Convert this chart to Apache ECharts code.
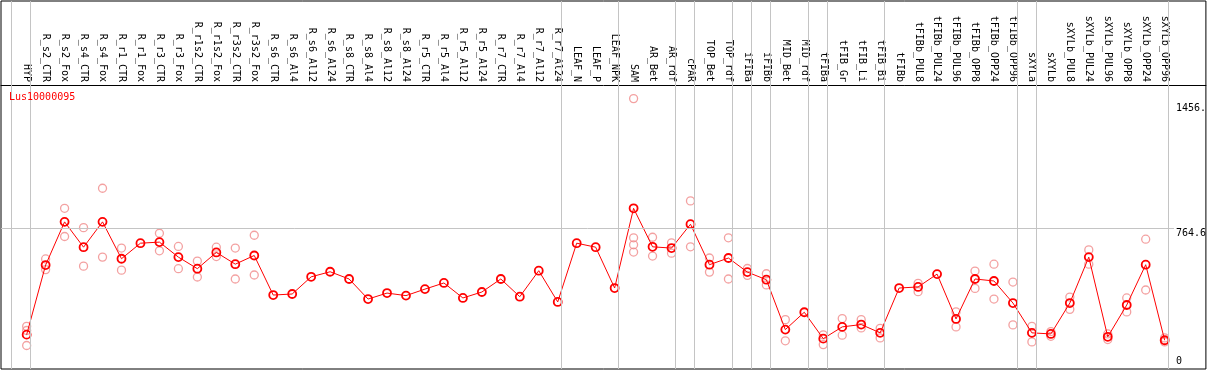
<!DOCTYPE html>
<html><head><meta charset="utf-8">
<script src="https://cdn.jsdelivr.net/npm/echarts@6/dist/echarts.min.js"></script>
<style>html,body{margin:0;padding:0;background:#fff}#c{width:1209px;height:370px}</style>
</head><body><div id="c"></div><script>
const geneName = 'Lus10000095';
const categories = ['HYP','R_s2_CTR','R_s2_Fox','R_s4_CTR','R_s4_Fox','R_r1_CTR','R_r1_Fox','R_r3_CTR','R_r3_Fox','R_r1s2_CTR','R_r1s2_Fox','R_r3s2_CTR','R_r3s2_Fox','R_s6_CTR','R_s6_Al4','R_s6_Al12','R_s6_Al24','R_s8_CTR','R_s8_Al4','R_s8_Al12','R_s8_Al24','R_r5_CTR','R_r5_Al4','R_r5_Al12','R_r5_Al24','R_r7_CTR','R_r7_Al4','R_r7_Al12','R_r7_Al24','LEAF_N','LEAF_P','LEAF_NPK','SAM','AR_Bet','AR_rdf','cPAR','TOP_Bet','TOP_rdf','iFIBa','iFIBb','MID_Bet','MID_rdf','tFIBa','tFIB_Gr','tFIB_Li','tFIB_Bi','tFIBb','tFIBb_PUL8','tFIBb_PUL24','tFIBb_PUL96','tFIBb_OPP8','tFIBb_OPP24','tFIBb_OPP96','sXYLa','sXYLb','sXYLb_PUL8','sXYLb_PUL24','sXYLb_PUL96','sXYLb_OPP8','sXYLb_OPP24','sXYLb_OPP96'];
const meanValues = [176,561,800,660,800,596,682,688,605,541,631,566,614,395,401,496,524,484,373,406,392,428,462,379,412,484,386,530,357,682,660,434,875,662,655,787,563,600,522,480,204,300,154,219,232,186,434,440,511,263,484,473,351,186,180,351,605,164,340,563,145];
const replicates = [[222,199,116],[595,536],[875,719],[768,555],[986,605],[655,533],[],[737,640],[664,541],[583,495],[660,608],[655,484],[726,506],[],[],[],[],[],[],[],[],[],[],[],[],[],[],[],[],[],[],[],[1482,712,673,633],[715,611],[684,627],[916,662],[600,522],[712,484],[542,504],[513,451],[259,142],[],[175,121],[265,173],[259,213],[211,158],[],[460,414],[],[302,219],[528,432],[566,373],[467,230],[222,136],[193,167],[384,316],[645,566],[180,149],[379,302],[704,423],[158,136]];
const yTickValues = [0, 764.6, 1456];
const yTickLabels = ['0', '764.6', '1456.'];
const groupEnds = [-1, 0, 28, 31, 34, 35, 37, 38, 39, 41, 42, 45, 52, 53, 60];

const FONT = 'DejaVu Sans Mono';
const chart = echarts.init(document.getElementById('c'), null, {renderer: 'canvas'});
const meanData = meanValues.map((v, i) => [i, v]);
const repData = [];
replicates.forEach((arr, i) => arr.forEach(v => repData.push([i, v])));

chart.setOption({
  animation: false,
  title: {text: geneName, left: 9, top: 92, padding: 0,
    textStyle: {color: '#ff0000', fontFamily: FONT, fontSize: 10, fontWeight: 'normal'}},
  grid: {left: 1, right: 1, top: 1, bottom: 1, show: true, borderColor: '#000', borderWidth: 1},
  xAxis: {type: 'value', min: -1.3526, max: 62.174, position: 'top', offset: -84,
    axisLine: {show: true, onZero: false, lineStyle: {color: '#000', width: 1}},
    axisTick: {show: false}, splitLine: {show: false},
    axisLabel: {customValues: categories.map((_, i) => i), formatter: v => categories[Math.round(v)],
      rotate: 90, margin: 3, fontFamily: FONT, fontSize: 10, color: '#000'}},
  yAxis: {type: 'value', position: 'right', min: -14, max: 2022,
    axisLine: {show: false}, axisTick: {show: false}, splitLine: {show: false},
    axisLabel: {inside: true, customValues: yTickValues,
      formatter: v => yTickLabels[yTickValues.indexOf(v)],
      align: 'left', margin: 30, verticalAlign: 'top', verticalAlignMinLabel: 'bottom',
      fontFamily: FONT, fontSize: 10, color: '#000'}},
  series: [
    {type: 'scatter', name: 'replicates', data: repData, symbol: 'circle', symbolSize: 8,
      itemStyle: {color: 'rgba(0,0,0,0)', borderColor: '#f08a8a', borderWidth: 1.3}, z: 2,
      markLine: {silent: true, symbol: 'none', label: {show: false}, animation: false,
        lineStyle: {color: '#c4c4c4', width: 1, type: 'solid'},
        data: groupEnds.map(k => ({xAxis: k + 0.21})).concat([
          [{coord: [-1.3526, 764.6]}, {coord: [60.49, 764.6]}]
        ])}},
    {type: 'line', name: 'mean', data: meanData, symbol: 'circle', symbolSize: 8,
      lineStyle: {color: '#ff0000', width: 1},
      itemStyle: {color: 'rgba(0,0,0,0)', borderColor: '#ff0000', borderWidth: 1.8}, z: 3}
  ]
});
</script></body></html>
